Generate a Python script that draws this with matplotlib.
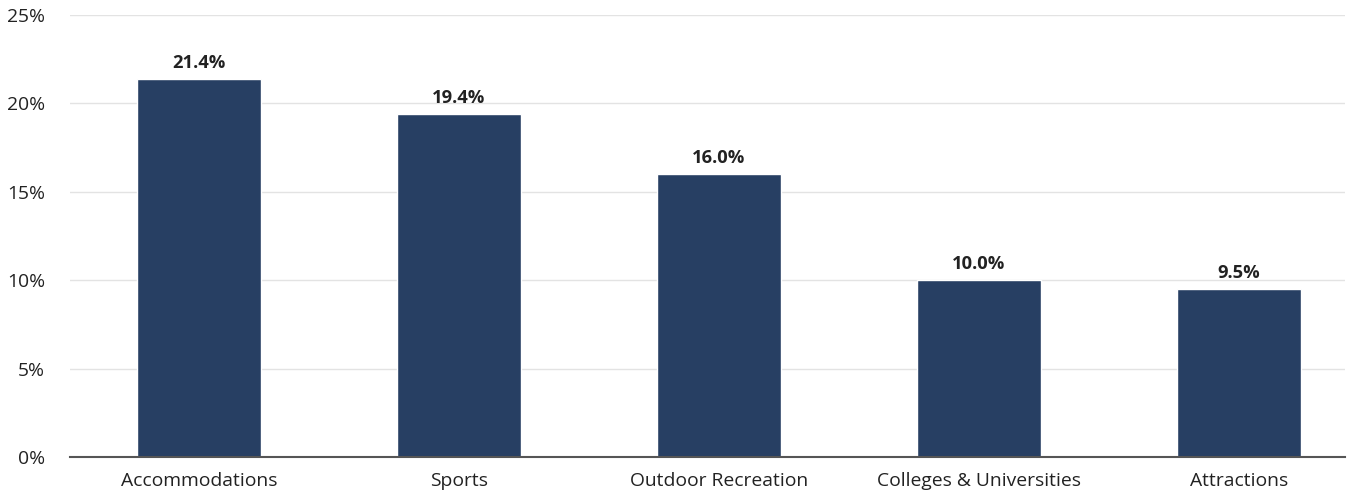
import matplotlib
matplotlib.use("Agg")
import matplotlib.pyplot as plt
from matplotlib.ticker import FuncFormatter

categories = ["Accommodations", "Sports", "Outdoor Recreation", "Colleges & Universities", "Attractions"]
values = [21.4, 19.4, 16.0, 10.0, 9.5]
yticks = [0, 5, 10, 15, 20, 25]

plt.rcParams['font.family'] = ['Open Sans', 'DejaVu Sans']

fig = plt.figure(figsize=(13.51, 4.92), dpi=100)
ax = fig.add_axes([70/1351, 35/492, 1275/1351, 442/492])

x = list(range(len(categories)))
bars = ax.bar(x, values, width=0.48, color="#273f63", edgecolor="white", linewidth=1.0, zorder=3)
for xi, v in zip(x, values):
    ax.annotate(f"{v:.1f}%", (xi, v), xytext=(0, 5), textcoords="offset points",
                ha="center", va="bottom", fontsize=13.2, fontweight="bold", color="#222222", zorder=4)

ax.set_xlim(-0.496, 4.408)
ax.set_ylim(0, 25)
ax.set_yticks(yticks)
ax.yaxis.set_major_formatter(FuncFormatter(lambda v, p: f"{v:.0f}%"))
ax.set_xticks(x)
ax.set_xticklabels(categories)
ax.grid(axis="y", color="#e3e3e3", linewidth=1, zorder=0)
for s in ["top", "right", "left"]:
    ax.spines[s].set_visible(False)
ax.spines["bottom"].set_color("#555555")
ax.spines["bottom"].set_linewidth(1.5)
ax.spines["bottom"].set_zorder(5)
ax.tick_params(axis="y", length=0, labelsize=13.9, colors="#222222", pad=18)
ax.tick_params(axis="x", length=0, labelsize=13.9, colors="#222222", pad=10.5)

fig.savefig("out.png", dpi=100)
